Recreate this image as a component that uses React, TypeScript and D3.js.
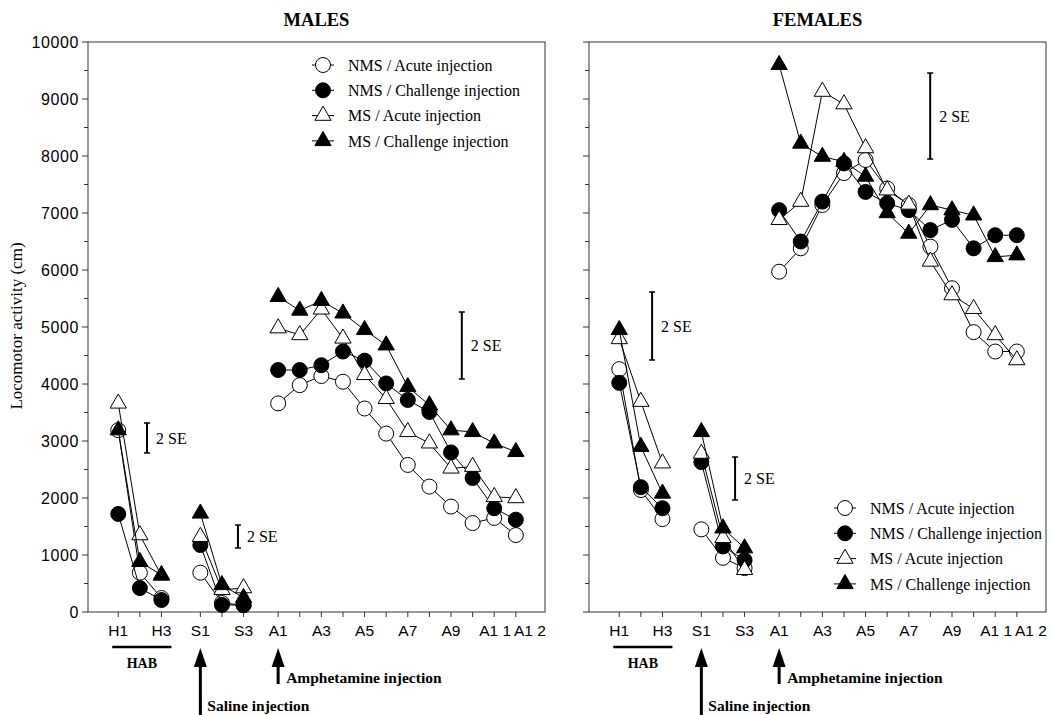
import * as d3 from 'd3';

// time points, in order: habituation, saline, amphetamine
const timePoints = ['H1', 'H2', 'H3', 'S1', 'S2', 'S3', 'A1', 'A2', 'A3', 'A4', 'A5', 'A6', 'A7', 'A8', 'A9', 'A10', 'A11', 'A12'];
const tickKeys = ['H1', 'H3', 'S1', 'S3', 'A1', 'A3', 'A5', 'A7', 'A9', 'A11', 'A12'];
const tickTexts = ['H1', 'H3', 'S1', 'S3', 'A1', 'A3', 'A5', 'A7', 'A9', 'A1 1', 'A1 2'];
const yTicks = [0, 1000, 2000, 3000, 4000, 5000, 6000, 7000, 8000, 9000, 10000];

const legendNames = ['NMS / Acute injection', 'NMS / Challenge injection', 'MS / Acute injection', 'MS / Challenge injection'];

// MALES
const maleNmsAcute = [3190, 690, 245, 690, 160, 120, 3660, 3980, 4140, 4040, 3570, 3130, 2580, 2200, 1850, 1560, 1650, 1350];
const maleNmsChallenge = [1720, 420, 210, 1175, 125, 120, 4245, 4245, 4330, 4570, 4410, 4010, 3720, 3510, 2800, 2350, 1820, 1620];
const maleMsAcute = [3660, 1350, 640, 1320, 390, 420, 4980, 4860, 5310, 4800, 4160, 3740, 3160, 2960, 2520, 2550, 2020, 2000];
const maleMsChallenge = [3190, 880, 650, 1730, 475, 250, 5530, 5290, 5460, 5240, 4950, 4680, 3950, 3630, 3190, 3160, 2960, 2810];

// FEMALES
const femaleNmsAcute = [4260, 2140, 1630, 1450, 950, 770, 5970, 6380, 7140, 7700, 7930, 7430, 7140, 6410, 5680, 4910, 4570, 4570];
const femaleNmsChallenge = [4020, 2190, 1820, 2630, 1150, 910, 7050, 6500, 7200, 7870, 7370, 7170, 7050, 6700, 6880, 6380, 6610, 6610];
const femaleMsAcute = [4790, 3690, 2610, 2780, 1300, 740, 6880, 7200, 9130, 8910, 8140, 7400, 7150, 6150, 5560, 5320, 4860, 4420];
const femaleMsChallenge = [4950, 2900, 2080, 3160, 1470, 1120, 9600, 8220, 7990, 7900, 7640, 7000, 6640, 7140, 7050, 6960, 6230, 6260];

// 2 SE bars: [x position (in time-point units), low, high]
const maleSE = [[1.33, 2790, 3316], [5.54, 1123, 1526], [15.9, 4088, 5263]];
const femaleSE = [[1.52, 4421, 5614], [5.36, 1965, 2719], [14.39, 7947, 9456]];

const W = 457;
const H = 570;
const groupGap: Record<string, number> = { H: 0, S: 0.8, A: 1.4 };

const pos = (key: string) => timePoints.indexOf(key) + groupGap[key[0]];

const x = d3.scaleLinear().domain([-1.4, 19.75]).range([0, W]);
const y = d3.scaleLinear().domain([0, 10000]).range([H, 0]);

const triangle = d3.symbol(d3.symbolTriangle, 115)();

type SeriesStyle = { fill: string; shape: 'circle' | 'triangle' };
const styles: SeriesStyle[] = [
  { fill: 'white', shape: 'circle' },
  { fill: 'black', shape: 'circle' },
  { fill: 'white', shape: 'triangle' },
  { fill: 'black', shape: 'triangle' },
];

const Marker = ({ cx, cy, s }: { cx: number; cy: number; s: SeriesStyle }) =>
  s.shape === 'circle' ? (
    <circle cx={cx} cy={cy} r={7.5} fill={s.fill} stroke="black" strokeWidth={1} />
  ) : (
    <path d={triangle!} transform={`translate(${cx},${cy})`} fill={s.fill} stroke="black" strokeWidth={1} />
  );

const line = d3
  .line<[string, number]>()
  .x((d) => x(pos(d[0])))
  .y((d) => y(d[1]));

const serif = 'Liberation Serif, Times New Roman, serif';
const sans = 'Liberation Sans, Arial, sans-serif';

type PanelProps = {
  title: string;
  ox: number;
  series: number[][];
  se: number[][];
  legendX: number;
  legendY: number;
  showYLabels: boolean;
};

const Panel = ({ title, ox, series, se, legendX, legendY, showYLabels }: PanelProps) => {
  const minor = d3.range(500, 10000, 1000);
  return (
    <g transform={`translate(${ox},42)`}>
      <text x={W / 2} y={-16} textAnchor="middle" fontFamily={serif} fontWeight="bold" fontSize={18.5}>
        {title}
      </text>
      <rect x={0} y={0} width={W} height={H} fill="none" stroke="#333" strokeWidth={1} />
      {yTicks.map((t) => (
        <g key={t} transform={`translate(0,${y(t)})`}>
          <line x1={-6} x2={0} stroke="#333" />
          {showYLabels && (
            <text x={-9} dy="0.35em" textAnchor="end" fontFamily={sans} fontSize={16} letterSpacing={0.6}>
              {t}
            </text>
          )}
        </g>
      ))}
      {minor.map((t) => (
        <line key={t} x1={-4} x2={0} y1={y(t)} y2={y(t)} stroke="#333" />
      ))}
      {timePoints.map((k) => (
        <line key={k} x1={x(pos(k))} x2={x(pos(k))} y1={H} y2={H + 5} stroke="#333" />
      ))}
      {tickKeys.map((k, i) => (
        <text
          key={k}
          x={x(pos(k)) + (k === 'A12' ? 14 : k === 'A11' ? 1 : 0)}
          y={H + 24}
          textAnchor="middle"
          fontFamily={sans}
          fontSize={15.5}
        >
          {tickTexts[i]}
        </text>
      ))}
      {series.map((vals, si) => {
        const pts = timePoints.map((k, i) => [k, vals[i]] as [string, number]);
        const groups = ['H', 'S', 'A'].map((g) => pts.filter((p) => p[0][0] === g));
        return (
          <g key={si}>
            {groups.map((g, gi) => (
              <path key={gi} d={line(g)!} fill="none" stroke="black" strokeWidth={1} />
            ))}
            {pts.map((p) => (
              <Marker key={p[0]} cx={x(pos(p[0]))} cy={y(p[1])} s={styles[si]} />
            ))}
          </g>
        );
      })}
      {se.map(([px, lo, hi], i) => (
        <g key={i}>
          <line x1={x(px)} x2={x(px)} y1={y(lo)} y2={y(hi)} stroke="black" strokeWidth={2} />
          <line x1={x(px) - 3} x2={x(px) + 3} y1={y(lo)} y2={y(lo)} stroke="black" strokeWidth={1.5} />
          <line x1={x(px) - 3} x2={x(px) + 3} y1={y(hi)} y2={y(hi)} stroke="black" strokeWidth={1.5} />
          <text x={x(px) + 9} y={y((lo + hi) / 2)} dy="0.35em" fontFamily={serif} fontSize={16}>
            2 SE
          </text>
        </g>
      ))}
      {legendNames.map((n, i) => (
        <g key={n} transform={`translate(${legendX},${legendY + i * 25.3})`}>
          <line x1={-11} x2={11} stroke="black" strokeWidth={1} />
          <Marker cx={0} cy={0} s={styles[i]} />
          <text x={25} dy="0.35em" fontFamily={serif} fontSize={16}>
            {n}
          </text>
        </g>
      ))}
      {/* annotations below the axis */}
      <line x1={x(pos('H1')) - 6} x2={x(pos('H3')) + 10} y1={H + 35} y2={H + 35} stroke="black" strokeWidth={2.5} />
      <text x={(x(pos('H1')) + x(pos('H3'))) / 2 + 2} y={H + 56} textAnchor="middle" fontFamily={serif} fontWeight="bold" fontSize={14}>
        HAB
      </text>
      <line x1={x(pos('S1'))} x2={x(pos('S1'))} y1={H + 50} y2={H + 103} stroke="black" strokeWidth={3} />
      <path d={`M${x(pos('S1'))},${H + 36}l-6.5,19h13z`} fill="black" />
      <text x={x(pos('S1')) + 7} y={H + 99} fontFamily={serif} fontWeight="bold" fontSize={15.5}>
        Saline injection
      </text>
      <line x1={x(pos('A1'))} x2={x(pos('A1'))} y1={H + 50} y2={H + 72} stroke="black" strokeWidth={3} />
      <path d={`M${x(pos('A1'))},${H + 36}l-6.5,19h13z`} fill="black" />
      <text x={x(pos('A1')) + 8} y={H + 71} fontFamily={serif} fontWeight="bold" fontSize={15.5}>
        Amphetamine injection
      </text>
    </g>
  );
};

export default function App() {
  return (
    <svg width={1051} height={715} style={{ position: 'absolute', left: 0, top: 0, background: 'white' }}>
      <rect width={1051} height={715} fill="white" />
      <text
        transform="translate(22,326) rotate(-90)"
        textAnchor="middle"
        fontFamily={serif}
        fontSize={17}
      >
        Locomotor activity (cm)
      </text>
      <Panel
        title="MALES"
        ox={88}
        series={[maleNmsAcute, maleNmsChallenge, maleMsAcute, maleMsChallenge]}
        se={maleSE}
        legendX={235}
        legendY={23}
        showYLabels
      />
      <Panel
        title="FEMALES"
        ox={589}
        series={[femaleNmsAcute, femaleNmsChallenge, femaleMsAcute, femaleMsChallenge]}
        se={femaleSE}
        legendX={256}
        legendY={466}
        showYLabels={false}
      />
    </svg>
  );
}
